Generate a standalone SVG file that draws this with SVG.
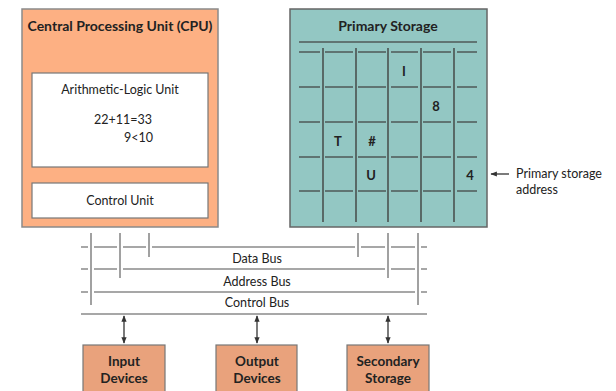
<svg xmlns="http://www.w3.org/2000/svg" width="616" height="391" viewBox="0 0 616 391">
<defs>
<style>
text{font-family:Lato,"Open Sans","DejaVu Sans",sans-serif;fill:#222;}
.t{font-size:12.5px;}
.b{font-size:14px;font-weight:bold;}
.c{font-size:13.5px;font-weight:bold;}
.g{font-size:13px;font-weight:bold;}
.grid{stroke:#4f5a58;stroke-width:1.7;fill:none;}
.bus{stroke:#8a8a8a;stroke-width:1.6;fill:none;}
.arr{stroke:#333;stroke-width:1.3;fill:none;}
</style>
<marker id="ah" viewBox="0 0 10 10" refX="9" refY="5" markerWidth="5" markerHeight="5" orient="auto-start-reverse">
<path d="M0,1 L10,5 L0,9 Z" fill="#333"/>
</marker>
</defs>
<rect width="616" height="391" fill="#fff"/>

<g id="cpu">
<rect x="22" y="9" width="196" height="218" fill="#fdb083" stroke="#8a8a8a" stroke-width="1.5"/>
<text class="b" x="120" y="31" text-anchor="middle">Central Processing Unit (CPU)</text>
</g>
<g id="alu">
<rect x="32" y="73" width="176" height="94" fill="#fff" stroke="#777" stroke-width="1.2"/>
<text class="t" x="120" y="94" text-anchor="middle">Arithmetic-Logic Unit</text>
<text class="t" x="123" y="124" text-anchor="middle">22+11=33</text>
<text class="t" x="153" y="142" text-anchor="end">9&lt;10</text>
</g>
<g id="control-unit">
<rect x="32" y="183" width="176" height="35" fill="#fff" stroke="#777" stroke-width="1.2"/>
<text class="t" x="120" y="205" text-anchor="middle">Control Unit</text>
</g>

<g id="primary-storage">
<rect x="290" y="9" width="197" height="218" fill="#93c7c3" stroke="#666" stroke-width="1.5"/>
<text class="b" x="388" y="31" text-anchor="middle">Primary Storage</text>
<path class="grid" d="M299,42 H477"/>
<path class="grid" d="M323,48 V222 M356,48 V222 M388,48 V222 M421,48 V222 M454,48 V222"/>
<path class="grid" d="M299,52 H320 M325,52 H353 M358,52 H386 M391,52 H418 M423,52 H451 M457,52 H477
M299,87 H320 M325,87 H353 M358,87 H386 M391,87 H418 M423,87 H451 M457,87 H477
M299,122 H320 M325,122 H353 M358,122 H386 M391,122 H418 M423,122 H451 M457,122 H477
M299,157 H320 M325,157 H353 M358,157 H386 M391,157 H418 M423,157 H451 M457,157 H477
M299,191 H320 M325,191 H353 M358,191 H386 M391,191 H418 M423,191 H451 M457,191 H477"/>
<text class="g" x="404" y="76" text-anchor="middle">I</text>
<text class="g" x="436" y="111" text-anchor="middle">8</text>
<text class="g" x="338" y="146" text-anchor="middle">T</text>
<text class="g" x="372" y="146" text-anchor="middle">#</text>
<text class="g" x="371" y="180" text-anchor="middle">U</text>
<text class="g" x="470" y="180" text-anchor="middle">4</text>
</g>

<g id="address-label">
<text class="t" x="516" y="178">Primary storage</text>
<text class="t" x="516" y="194">address</text>
</g>

<g id="connectors">
<path class="arr" d="M509,174 H491" marker-end="url(#ah)"/>
<path class="bus" d="M91,233 V305 M120,233 V278 M149,233 V257 M358,233 V257 M388,233 V278 M418,233 V305"/>
<path class="bus" d="M81,247 H88 M94,247 H117 M123,247 H146 M152,247 H355 M361,247 H385 M391,247 H415 M421,247 H427"/>
<path class="bus" d="M81,269 H88 M94,269 H117 M123,269 H385 M391,269 H415 M421,269 H427"/>
<path class="bus" d="M81,292 H88 M94,292 H415 M421,292 H427"/>
<path class="bus" d="M81,314 H427"/>
<path class="arr" d="M124,316 V343" marker-start="url(#ah)" marker-end="url(#ah)"/>
<path class="arr" d="M257,316 V343" marker-start="url(#ah)" marker-end="url(#ah)"/>
<path class="arr" d="M388,316 V343" marker-start="url(#ah)" marker-end="url(#ah)"/>
</g>
<text class="t" x="257" y="263" text-anchor="middle">Data Bus</text>
<text class="t" x="257" y="286" text-anchor="middle">Address Bus</text>
<text class="t" x="257" y="307" text-anchor="middle">Control Bus</text>

<g id="input-devices">
<rect x="83" y="345" width="82" height="50" fill="#e9a27c" stroke="#777" stroke-width="1.2"/>
<text class="c" x="124" y="366" text-anchor="middle">Input</text>
<text class="c" x="124" y="383" text-anchor="middle">Devices</text>
</g>
<g id="output-devices">
<rect x="216" y="345" width="81" height="50" fill="#e9a27c" stroke="#777" stroke-width="1.2"/>
<text class="c" x="257" y="366" text-anchor="middle">Output</text>
<text class="c" x="257" y="383" text-anchor="middle">Devices</text>
</g>
<g id="secondary-storage">
<rect x="347" y="345" width="82" height="50" fill="#e9a27c" stroke="#777" stroke-width="1.2"/>
<text class="c" x="388" y="366" text-anchor="middle">Secondary</text>
<text class="c" x="388" y="383" text-anchor="middle">Storage</text>
</g>
</svg>
